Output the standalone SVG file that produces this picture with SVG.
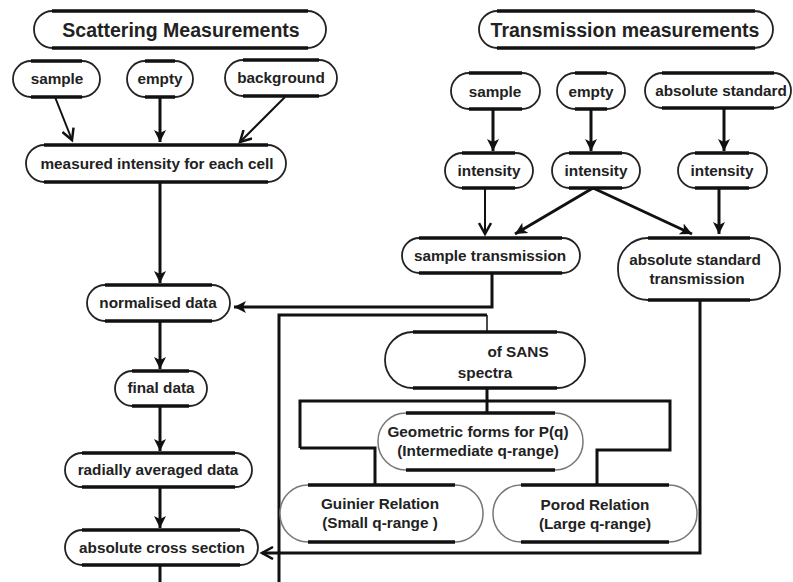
<svg xmlns="http://www.w3.org/2000/svg" width="793" height="582" viewBox="0 0 793 582">
<style>
.n rect{fill:#fff;stroke:#222;stroke-width:1.8}
.n path{stroke:#111;stroke-width:3.5;fill:none}
.g rect{stroke:#777;stroke-width:1.5}
text{font-family:"Liberation Sans",Arial,sans-serif;font-weight:bold;fill:#222;text-anchor:middle;font-size:15.3px}
.big{font-size:19.5px}
.c line,.c polyline{stroke:#111;stroke-width:3;fill:none}
.c .thin{stroke-width:1.5}
.c .mid{stroke-width:2}
</style>
<defs>
<marker id="ah" markerUnits="userSpaceOnUse" markerWidth="14" markerHeight="12" refX="12" refY="6" orient="auto">
<path d="M0,0 L12,6 L0,12 L3,6 z" fill="#111"/>
</marker>
<marker id="av" markerUnits="userSpaceOnUse" markerWidth="16" markerHeight="14" refX="12" refY="7" orient="auto">
<path d="M1,1 L12,7 L1,13" fill="none" stroke="#111" stroke-width="2.5"/>
</marker>
</defs>
<g class="c" id="connectors">
<line class="mid" x1="55" y1="97" x2="72" y2="140" marker-end="url(#av)"/>
<line x1="160" y1="97" x2="160" y2="142" marker-end="url(#ah)"/>
<line class="mid" x1="285" y1="97" x2="240" y2="142" marker-end="url(#av)"/>
<line x1="160" y1="182" x2="160" y2="283" marker-end="url(#ah)"/>
<line x1="160" y1="321" x2="160" y2="369" marker-end="url(#ah)"/>
<line x1="160" y1="406" x2="160" y2="451" marker-end="url(#ah)"/>
<line x1="160" y1="487" x2="160" y2="528" marker-end="url(#ah)"/>
<line x1="160" y1="565" x2="160" y2="582"/>
<line x1="493" y1="109" x2="493" y2="151" marker-end="url(#ah)"/>
<line x1="591" y1="109" x2="591" y2="151" marker-end="url(#ah)"/>
<line x1="724" y1="108" x2="724" y2="151" marker-end="url(#ah)"/>
<line class="mid" x1="485" y1="188" x2="485" y2="234" marker-end="url(#av)"/>
<line x1="593" y1="188" x2="515" y2="234" marker-end="url(#ah)"/>
<line x1="593" y1="188" x2="692" y2="234" marker-end="url(#ah)"/>
<line x1="719" y1="188" x2="719" y2="234" marker-end="url(#ah)"/>
<polyline points="492,273 492,307 234,307" marker-end="url(#ah)"/>
<polyline points="700,300 700,553 262,553" marker-end="url(#av)"/>
<polyline points="279,582 279,315 487,315"/>
<line class="thin" x1="487" y1="315" x2="487" y2="332"/>
<polyline points="300,448 300,401 670,401 670,450 597,450 597,485"/>
<line x1="487" y1="388" x2="487" y2="413"/>
<polyline points="300,448 375,448 375,485"/>
</g>
<g class="n" id="scat-title"><rect x="34" y="11" width="292" height="37" rx="18.5"/><path d="M52,11H308M52,48H308"/><text class="big" x="181" y="37">Scattering Measurements</text></g>
<g class="n" id="s-sample"><rect x="13" y="61" width="87" height="36" rx="18"/><path d="M31,61H82M31,97H82"/><text x="57" y="84">sample</text></g>
<g class="n" id="s-empty"><rect x="127" y="61" width="66" height="36" rx="18"/><path d="M145,61H175M145,97H175"/><text x="160" y="84">empty</text></g>
<g class="n" id="s-background"><rect x="225" y="60" width="112" height="36" rx="18"/><path d="M243,60H319M243,96H319"/><text x="281" y="83">background</text></g>
<g class="n" id="measured"><rect x="26" y="145" width="260" height="37" rx="18.5"/><path d="M44,145H268M44,182H268"/><text x="157" y="169">measured intensity for each cell</text></g>
<g class="n" id="trans-title"><rect x="479" y="11" width="294" height="37" rx="18.5"/><path d="M497,11H755M497,48H755"/><text class="big" x="625" y="37">Transmission measurements</text></g>
<g class="n" id="t-sample"><rect x="451" y="73" width="89" height="36" rx="18"/><path d="M469,73H522M469,109H522"/><text x="495" y="97">sample</text></g>
<g class="n" id="t-empty"><rect x="557" y="73" width="68" height="36" rx="18"/><path d="M575,73H607M575,109H607"/><text x="591" y="97">empty</text></g>
<g class="n" id="t-abs"><rect x="645" y="73" width="146" height="35" rx="17.5"/><path d="M662,73H774M662,108H774"/><text x="721" y="96">absolute standard</text></g>
<g class="n" id="int1"><rect x="445" y="153" width="88" height="35" rx="17.5"/><path d="M462,153H515M462,188H515"/><text x="489" y="176">intensity</text></g>
<g class="n" id="int2"><rect x="552" y="153" width="88" height="35" rx="17.5"/><path d="M569,153H622M569,188H622"/><text x="596" y="176">intensity</text></g>
<g class="n" id="int3"><rect x="678" y="153" width="89" height="35" rx="17.5"/><path d="M695,153H749M695,188H749"/><text x="722" y="176">intensity</text></g>
<g class="n" id="sample-trans"><rect x="402" y="238" width="178" height="35" rx="17.5"/><path d="M419,238H562M419,273H562"/><text x="490" y="261">sample transmission</text></g>
<g class="n" id="abs-trans"><rect x="618" y="238" width="162" height="62" rx="30"/><path d="M648,238H750M648,300H750"/><text x="695" y="265">absolute standard</text><text x="697" y="284">transmission</text></g>
<g class="n" id="normalised"><rect x="87" y="285" width="143" height="36" rx="18"/><path d="M105,285H212M105,321H212"/><text x="158" y="308">normalised data</text></g>
<g class="n" id="final"><rect x="115" y="371" width="92" height="35" rx="17.5"/><path d="M132,371H189M132,406H189"/><text x="161" y="393">final data</text></g>
<g class="n" id="radial"><rect x="65" y="453" width="187" height="34" rx="17"/><path d="M82,453H235M82,487H235"/><text x="158" y="475">radially averaged data</text></g>
<g class="n" id="abs-cross"><rect x="65" y="530" width="193" height="35" rx="17.5"/><path d="M82,530H240M82,565H240"/><text x="162" y="553">absolute cross section</text></g>
<g class="n" id="sans"><rect x="385" y="332" width="200" height="56" rx="28"/><path d="M413,332H557M413,388H557"/><text x="518" y="357">of SANS</text><text x="485" y="378">spectra</text></g>
<g class="n g" id="geometric"><rect x="378" y="413" width="205" height="57" rx="28"/><path d="M406,413H555M406,470H555"/><text x="478" y="437">Geometric forms for P(q)</text><text x="478" y="456">(Intermediate q-range)</text></g>
<g class="n g" id="guinier"><rect x="280" y="485" width="203" height="57" rx="28"/><path d="M308,485H455M308,542H455"/><text x="380" y="509">Guinier Relation</text><text x="380" y="528">(Small q-range )</text></g>
<g class="n g" id="porod"><rect x="493" y="485" width="204" height="57" rx="28"/><path d="M521,485H669M521,542H669"/><text x="595" y="510">Porod Relation</text><text x="595" y="529">(Large  q-range)</text></g>
</svg>
